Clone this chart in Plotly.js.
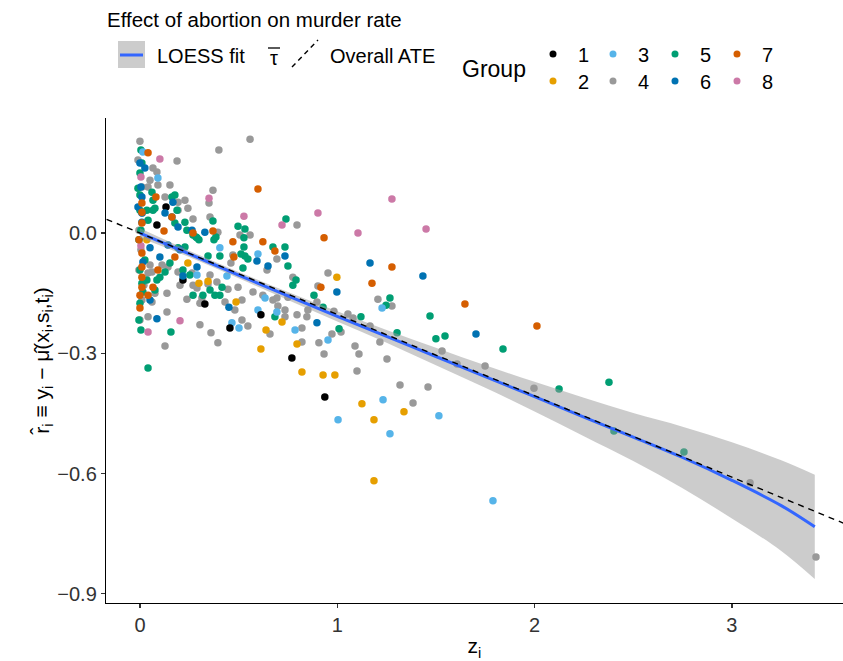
<!DOCTYPE html>
<html>
<head>
<meta charset="utf-8">
<script src="https://cdn.plot.ly/plotly-3.0.1.min.js"></script>
<style>html,body{margin:0;padding:0;background:#fff;}#chart{width:843px;height:661px;}</style>
</head>
<body>
<div id="chart"></div>
<script>
// ---------------- data ----------------
const groupNames = ["1","2","3","4","5","6","7","8"];
const groupColors = ["#000000","#E69F00","#56B4E9","#999999","#009E73","#0072B2","#D55E00","#CC79A7"];

const g1_x = [0.132,0.086,0.218,0.329,0.456,0.613,0.770,0.937];
const g1_y = [0.065,0.020,-0.117,-0.177,-0.237,-0.204,-0.312,-0.409];

const g2_x = [0.035,0.243,0.299,0.345,0.487,0.639,0.613,0.720,0.796,0.998,0.821,0.928,0.988,1.125,1.186,1.338,1.186];
const g2_y = [-0.017,-0.075,-0.125,-0.120,-0.172,-0.242,-0.289,-0.222,-0.277,-0.110,-0.347,-0.354,-0.354,-0.426,-0.466,-0.446,-0.618];

const g3_x = [0.015,0.091,0.405,0.598,0.289,0.441,0.634,0.466,0.502,0.598,0.694,0.786,0.953,1.227,1.004,1.232,1.267,1.515,1.789];
const g3_y = [0.202,0.137,-0.037,-0.052,-0.105,-0.107,-0.162,-0.224,-0.237,-0.192,-0.197,-0.242,-0.267,-0.187,-0.466,-0.416,-0.501,-0.456,-0.668];

const g4_x = [3.426,3.092,1.997,1.749,1.607,1.531,1.460,1.318,1.384,1.252,1.216,1.277,1.206,1.166,1.100,1.110,1.090,1.080,1.054,1.019,
              0.983,0.973,0.953,0.933,0.907,0.902,0.897,0.851,0.846,0.821,0.821,0.796,0.796,0.775,0.735,0.750,0.735,0.699,0.694,0.694,
              0.674,0.659,0.644,0.623,0.573,0.558,0.558,0.547,0.517,0.517,0.507,0.497,0.481,0.471,0.461,0.446,0.431,0.400,0.395,0.395,
              0.390,0.370,0.360,0.355,0.355,0.350,0.345,0.314,0.304,0.304,0.289,0.269,0.269,0.264,0.243,0.238,0.228,0.203,0.193,0.193,
              0.193,0.188,0.152,0.142,0.137,0.137,0.127,0.127,0.112,0.091,0.086,0.076,0.066,0.061,0.061,0.051,0.051,0.041,0.041,0.041,
              0.010,0.000,-0.010,-0.005,0.005,-0.005,0.010,0.000,0.012,0.020];
const g4_y = [-0.808,-0.623,-0.387,-0.332,-0.327,-0.294,-0.384,-0.379,-0.424,-0.314,-0.272,-0.182,-0.165,-0.232,-0.344,-0.302,-0.282,-0.212,-0.202,-0.247,
              -0.195,-0.252,-0.100,-0.302,-0.274,-0.132,-0.172,-0.192,-0.209,-0.272,-0.237,-0.204,0.020,-0.110,-0.209,-0.160,-0.192,-0.182,-0.162,-0.065,
              -0.167,-0.252,-0.092,-0.155,-0.147,0.234,-0.005,-0.232,-0.217,-0.167,-0.005,-0.135,-0.192,-0.055,-0.075,-0.140,-0.172,0.207,0.002,-0.274,
              -0.122,0.107,-0.249,0.040,-0.105,0.075,-0.127,-0.162,-0.229,-0.175,-0.137,-0.130,0.035,-0.100,0.062,-0.165,0.082,-0.130,-0.097,0.077,
              0.057,0.180,0.120,-0.085,-0.150,-0.197,-0.282,0.090,-0.080,0.120,0.152,-0.150,0.162,-0.172,-0.097,-0.080,0.132,-0.209,-0.100,0.115,
              0.115,0.229,0.182,0.007,-0.042,-0.092,-0.167,-0.217,0.050,-0.130];

const g5_x = [2.757,2.402,2.377,2.124,1.840,1.546,1.500,1.470,1.303,1.267,1.247,1.120,1.009,0.928,0.882,0.791,0.775,0.750,0.740,0.735,
              0.684,0.674,0.547,0.532,0.532,0.527,0.527,0.522,0.512,0.497,0.416,0.405,0.405,0.385,0.375,0.370,0.355,0.345,0.319,0.299,
              0.284,0.269,0.253,0.238,0.228,0.218,0.188,0.177,0.177,0.162,0.157,0.152,0.127,0.101,0.086,0.076,0.076,0.066,0.066,0.061,
              0.041,0.041,0.035,0.035,0.025,0.015,0.010,0.010,0.000,0.000,0.000,-0.010,0.289,0.269,0.193,0.228,0.380,-0.005,0.005,0.000,
              -0.005,0.005,0.000,0.005];
const g5_y = [-0.546,-0.494,-0.372,-0.389,-0.289,-0.257,-0.264,-0.207,-0.249,-0.162,-0.180,-0.209,-0.239,-0.185,-0.155,-0.117,-0.130,-0.082,0.035,-0.035,
              -0.209,-0.035,-0.065,-0.057,0.010,-0.012,-0.035,-0.087,-0.052,0.017,-0.135,-0.155,-0.057,-0.010,-0.017,0.030,-0.142,-0.057,-0.155,-0.017,
              -0.010,-0.155,-0.105,0.007,0.027,-0.092,0.057,0.025,0.095,0.090,-0.247,-0.075,-0.097,-0.110,-0.117,-0.142,0.062,0.057,0.082,0.102,
              0.032,-0.337,-0.117,0.057,-0.067,-0.147,-0.125,0.175,0.150,0.057,-0.175,0.112,-0.012,-0.005,-0.037,-0.035,-0.155,-0.017,0.007,-0.092,
              -0.217,-0.242,0.095,0.207];

const g6_x = [1.703,1.434,1.166,0.998,0.897,0.735,0.649,0.593,0.451,0.329,0.289,0.264,0.218,0.203,0.193,0.167,0.162,0.142,0.127,0.101,
              0.086,0.051,0.051,0.025,0.015,0.010,0.010,0.010,0.005,0.000,-0.010];
const g6_y = [-0.252,-0.107,-0.075,-0.147,-0.224,-0.057,-0.082,-0.070,-0.185,0.002,-0.085,0.007,-0.107,-0.042,0.015,0.077,0.040,-0.030,0.050,-0.060,
              -0.214,-0.167,-0.037,0.162,-0.072,0.027,0.050,0.090,0.115,0.175,0.065];

const g7_x = [2.012,1.647,1.277,1.176,0.933,0.917,0.684,0.623,0.598,0.476,0.471,0.370,0.269,0.177,0.162,0.122,0.091,0.081,0.066,0.041,
              0.041,0.010,0.010,0.010,0.010,0.010,0.010,0.010,0.000,0.000,-0.005];
const g7_y = [-0.232,-0.177,-0.085,-0.125,-0.012,-0.135,-0.045,-0.022,0.110,-0.060,-0.022,0.005,0.000,-0.060,0.040,0.005,-0.092,0.090,-0.135,-0.155,
              0.200,0.075,0.052,0.025,-0.050,-0.085,-0.110,-0.135,-0.155,-0.187,-0.017];

const g8_x = [1.277,1.450,1.105,0.902,0.720,0.527,0.350,0.203,0.101,0.041,0.005,0.005];
const g8_y = [0.085,0.010,0.000,0.050,0.020,0.042,0.087,-0.219,0.185,-0.247,-0.032,0.140];

// LOESS fit and its confidence band
const loess_x  = [0, 0.25, 0.5, 0.75, 1.0, 1.25, 1.5, 1.75, 2.0, 2.25, 2.5, 2.75, 3.0, 3.25, 3.42];
const loess_y  = [0.000,-0.052,-0.105,-0.157,-0.208,-0.258,-0.308,-0.358,-0.408,-0.459,-0.509,-0.560,-0.617,-0.680,-0.733];
const loess_lo = [-0.012,-0.060,-0.113,-0.167,-0.221,-0.274,-0.330,-0.386,-0.445,-0.507,-0.569,-0.637,-0.712,-0.793,-0.863];
const loess_hi = [0.012,-0.044,-0.097,-0.147,-0.195,-0.242,-0.286,-0.330,-0.371,-0.411,-0.449,-0.483,-0.522,-0.567,-0.603];

// Overall ATE (slope through origin)
const ate_tau = -0.203;
const ate_intercept = 0;

const yTickVals = [0, -0.3, -0.6, -0.9];
const yTickText = ["0.0", "\u22120.3", "\u22120.6", "\u22120.9"];
const xTickVals = [0, 1, 2, 3];
const xTickText = ["0", "1", "2", "3"];

// ---------------- layout helpers ----------------
const W = 843, H = 661;
const M = {l: 106, r: 0, t: 118, b: 58};
const PW = W - M.l - M.r, PH = H - M.t - M.b;
const px = x => (x - M.l) / PW;
const py = y => (H - M.b - y) / PH;
const FONT = "Liberation Sans, Arial, Helvetica, sans-serif";
const xRange = [-0.172, 3.563];
const yRange = [-0.923, 0.287];

const groupsX = [g1_x,g2_x,g3_x,g4_x,g5_x,g6_x,g7_x,g8_x];
const groupsY = [g1_y,g2_y,g3_y,g4_y,g5_y,g6_y,g7_y,g8_y];
const drawOrder = [3,4,1,2,0,7,5,6];

const traces = [];
drawOrder.forEach(i => {
  traces.push({
    type: "scatter", mode: "markers", name: groupNames[i],
    x: groupsX[i], y: groupsY[i],
    marker: {color: groupColors[i], size: 7.5, line: {width: 0}},
    cliponaxis: true
  });
});
traces.push({type:"scatter", mode:"lines", x: loess_x, y: loess_lo, line:{width:0, shape:"spline"}, hoverinfo:"skip"});
traces.push({type:"scatter", mode:"lines", x: loess_x, y: loess_hi, line:{width:0, shape:"spline"}, fill:"tonexty", fillcolor:"rgba(153,153,153,0.5)", hoverinfo:"skip"});
traces.push({type:"scatter", mode:"lines", x: loess_x, y: loess_y, line:{color:"#3366FF", width:3, shape:"spline"}});
const ateX = [xRange[0] - 0.1, xRange[1] + 0.1];
traces.push({type:"scatter", mode:"lines", x: ateX, y: ateX.map(v => ate_intercept + ate_tau * v),
  line:{color:"#000000", width:1.4, dash:"6px,5px"}});

// ---------------- legend drawn by hand ----------------
const shapes = [];
const annotations = [];
const txt = (text, x, y, size, xanchor) => annotations.push({
  text: text, xref:"paper", yref:"paper", x: px(x), y: py(y), xanchor: xanchor || "left", yanchor:"middle",
  showarrow:false, font:{family: FONT, size: size, color:"#000"}
});

txt("Effect of abortion on murder rate", 105, 19, 20.5);
shapes.push({type:"rect", xref:"paper", yref:"paper", x0: px(118), x1: px(145), y0: py(68), y1: py(41),
  fillcolor:"#CCCCCC", line:{width:0}, layer:"above"});
shapes.push({type:"line", xref:"paper", yref:"paper", x0: px(120), x1: px(143), y0: py(55), y1: py(55),
  line:{color:"#3366FF", width:3}, layer:"above"});
txt("LOESS fit", 155, 56, 20);
txt("\u03C4", 274, 58, 20, "center");
shapes.push({type:"line", xref:"paper", yref:"paper", x0: px(268), x1: px(280), y0: py(48), y1: py(48),
  line:{color:"#000", width:1.3}, layer:"above"});
shapes.push({type:"line", xref:"paper", yref:"paper", x0: px(292), x1: px(318), y0: py(67), y1: py(40),
  line:{color:"#000", width:1.4, dash:"5px,4px"}, layer:"above"});
txt("Overall ATE", 328, 56, 20);
txt("Group", 460, 69, 23);

const legX = [553, 553, 613, 613, 675, 675, 737, 737];
const legY = [54, 81, 54, 81, 54, 81, 54, 81];
groupNames.forEach((g, i) => {
  shapes.push({type:"circle", xref:"paper", yref:"paper", xsizemode:"pixel", ysizemode:"pixel",
    xanchor: px(legX[i]), yanchor: py(legY[i]), x0:-3.5, x1:3.5, y0:-3.5, y1:3.5,
    fillcolor: groupColors[i], line:{width:0}, layer:"above"});
  txt(g, legX[i] + 30, legY[i] + 1, 20, "center");
});

const layout = {
  width: W, height: H,
  margin: {l: M.l, r: M.r, t: M.t, b: M.b, pad: 0},
  paper_bgcolor: "#fff", plot_bgcolor: "#fff",
  showlegend: false, hovermode: false,
  font: {family: FONT, color: "#000"},
  xaxis: {
    range: xRange, showgrid: false, zeroline: false,
    showline: true, linecolor: "#000", linewidth: 1.2,
    ticks: "outside", ticklen: 4, tickwidth: 1.2, tickcolor: "#333",
    tickvals: xTickVals, ticktext: xTickText,
    tickfont: {family: FONT, size: 20, color: "#333"},
    title: {text: "z<sub>i</sub>", font: {family: FONT, size: 21, color: "#000"}, standoff: 3}
  },
  yaxis: {
    range: yRange, showgrid: false, zeroline: false,
    showline: true, linecolor: "#000", linewidth: 1.2,
    ticks: "outside", ticklen: 4, tickwidth: 1.2, tickcolor: "#333",
    tickvals: yTickVals, ticktext: yTickText,
    tickfont: {family: FONT, size: 20, color: "#333"},
    title: {text: "r\u0302<sub>i</sub> \u2261 y<sub>i</sub> \u2212 \u03BC\u0302(x<sub>i</sub>,s<sub>i</sub>,t<sub>i</sub>)",
            font: {family: FONT, size: 21, color: "#000"}, standoff: 2}
  },
  shapes: shapes,
  annotations: annotations
};

Plotly.newPlot("chart", traces, layout, {staticPlot: true, displayModeBar: false});
</script>
</body>
</html>
